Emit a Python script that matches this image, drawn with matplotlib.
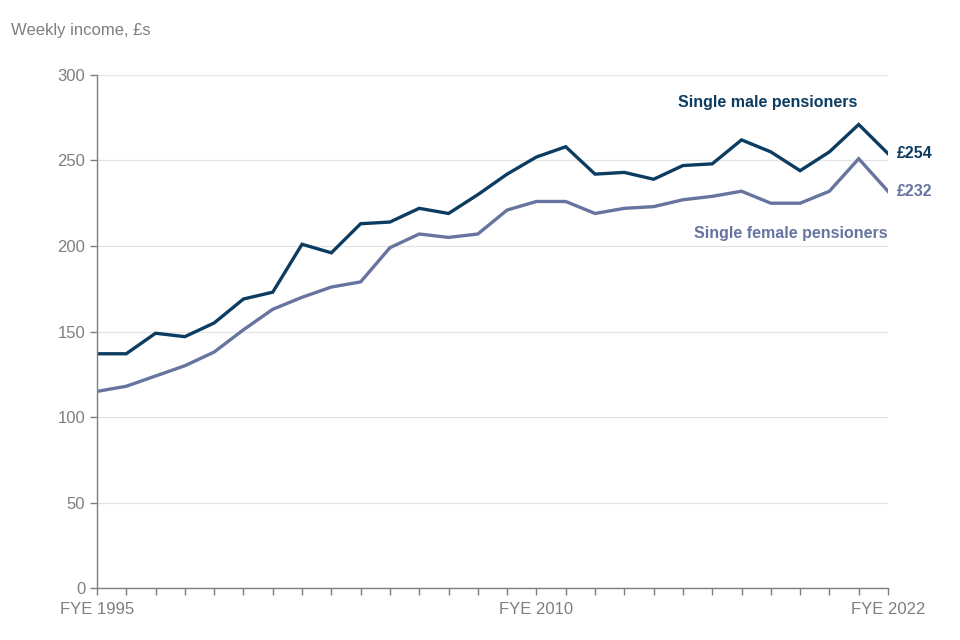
import matplotlib.pyplot as plt

plt.rcParams['font.family'] = ['Liberation Sans', 'DejaVu Sans']

# Weekly income (£) by financial year ending
years = list(range(1995, 2023))
male = [137, 137, 149, 147, 155, 169, 173, 201, 196, 213, 214, 222, 219, 230,
        242, 252, 258, 242, 243, 239, 247, 248, 262, 255, 244, 255, 271, 254]
female = [115, 118, 124, 130, 138, 151, 163, 170, 176, 179, 199, 207, 205, 207,
          221, 226, 226, 219, 222, 223, 227, 229, 232, 225, 225, 232, 251, 232]
tick_labels = {1995: 'FYE 1995', 2010: 'FYE 2010', 2022: 'FYE 2022'}

male_col = '#0d3c61'
female_col = '#6774a0'
grey = '#7f7f7f'

fig = plt.figure(figsize=(9.6, 6.4), dpi=100)
ax = fig.add_axes([0.101, 0.081, 0.824, 0.802])

ax.plot(years, male, color=male_col, lw=2.4, solid_joinstyle='miter')
ax.plot(years, female, color=female_col, lw=2.4, solid_joinstyle='miter')

ax.set_xlim(1995, 2022)
ax.set_ylim(0, 300)
ax.set_yticks(range(0, 301, 50))
ax.set_xticks(years)
ax.set_xticklabels([tick_labels.get(y, '') for y in years])
ax.grid(axis='y', color='#e3e3e3', lw=0.9)
ax.set_axisbelow(True)

for s in ['top', 'right']:
    ax.spines[s].set_visible(False)
for s in ['left', 'bottom']:
    ax.spines[s].set_color(grey)
    ax.spines[s].set_linewidth(1.0)
ax.tick_params(axis='both', colors=grey, labelcolor=grey, labelsize=12, length=5, width=1)
ax.tick_params(axis='x', pad=5)

# labels
ax.text(2017.9, 284, 'Single male pensioners', color=male_col, fontsize=11.5,
        fontweight='bold', ha='center', va='center')
ax.text(2022.3, male[-1], f'£{male[-1]}', color=male_col, fontsize=11.5,
        fontweight='bold', ha='left', va='center')
ax.text(2022.3, female[-1], f'£{female[-1]}', color=female_col, fontsize=11.5,
        fontweight='bold', ha='left', va='center')
ax.text(2022, 207, 'Single female pensioners', color=female_col, fontsize=11.5,
        fontweight='bold', ha='right', va='center')

fig.text(0.011, 0.952, 'Weekly income, £s', color=grey, fontsize=12, ha='left', va='center')

fig.savefig('out.png', dpi=100)
